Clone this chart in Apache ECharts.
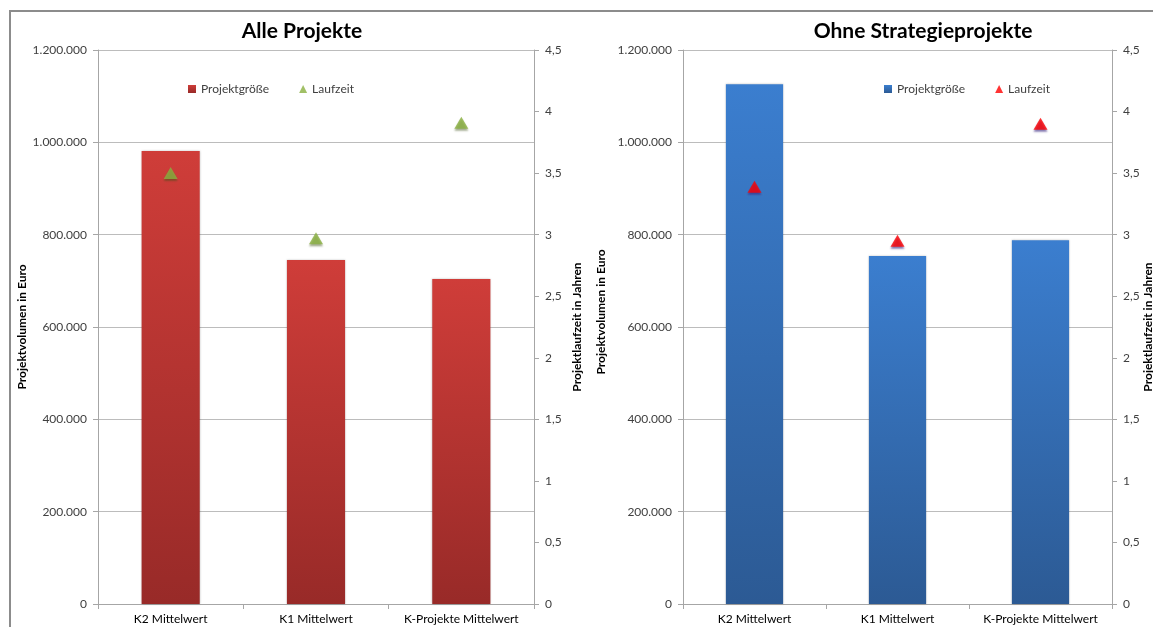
<!DOCTYPE html>
<html>
<head>
<meta charset="utf-8">
<title>Projekte</title>
<script src="https://cdn.jsdelivr.net/npm/echarts@6/dist/echarts.min.js"></script>
<style>
    body { margin: 0; background: #fff; }
    #frame { position: absolute; left: 9px; top: 10px; width: 1144px; height: 617px;
             border-top: 2px solid #8c8c8c; border-left: 2px solid #8c8c8c; box-sizing: border-box; }
    #c1 { position: absolute; left: 0; top: 0; width: 600px; height: 627px; }
    #c2 { position: absolute; left: 580px; top: 0; width: 573px; height: 627px; }
</style>
</head>
<body>
<div id="frame"></div>
<div id="c1"></div>
<div id="c2"></div>
<script>
    // Daten
    var kategorien = ['K2 Mittelwert', 'K1 Mittelwert', 'K-Projekte Mittelwert'];
    var alleGroesse = [981000, 745000, 704000];
    var alleLaufzeit = [3.5, 2.97, 3.91];
    var ohneGroesse = [1126000, 754000, 788000];
    var ohneLaufzeit = [3.39, 2.95, 3.9];

    var font = 'Lato, "Open Sans", sans-serif';

    function tausender(v) {
        return String(v).replace(/\B(?=(\d{3})+(?!\d))/g, '.');
    }
    function komma(v) {
        return String(v).replace('.', ',');
    }

    function baueOption(cfg) {
        return {
            animation: false,
            textStyle: { fontFamily: font },
            title: {
                text: cfg.titel,
                left: cfg.titelX,
                top: 16,
                textAlign: 'center',
                textStyle: { fontFamily: font, fontSize: 21, fontWeight: 'bold', color: '#000' }
            },
            legend: {
                left: cfg.legendeX,
                top: 78,
                itemGap: 30,
                itemWidth: 8,
                itemHeight: 8,
                textStyle: { fontFamily: font, fontSize: 12, color: '#404040' },
                data: [
                    { name: 'Projektgröße', icon: 'rect' },
                    { name: 'Laufzeit', icon: 'triangle' }
                ]
            },
            grid: {
                left: cfg.gridLeft, right: cfg.gridRight, top: 50, bottom: 23,
                containLabel: false, outerBoundsMode: 'none'
            },
            xAxis: {
                type: 'category',
                data: kategorien,
                axisLine: { lineStyle: { color: '#a6a6a6' } },
                axisTick: { show: true, alignWithLabel: false, length: 5, lineStyle: { color: '#a6a6a6' } },
                axisLabel: { interval: 0, color: '#000', fontSize: 12, fontFamily: font, margin: 9 }
            },
            yAxis: [
                {
                    type: 'value',
                    min: 0, max: 1200000, interval: 200000,
                    name: 'Projektvolumen in Euro',
                    nameLocation: 'middle',
                    nameRotate: 90,
                    nameGap: cfg.nameGapL,
                    nameMoveOverlap: false,
                    nameTextStyle: {
                        fontFamily: font, fontSize: 12, fontWeight: 'bold', color: '#000',
                        padding: cfg.namePadL
                    },
                    axisLine: { show: true, lineStyle: { color: '#a6a6a6' } },
                    axisTick: { show: true, length: 5, lineStyle: { color: '#a6a6a6' } },
                    axisLabel: { color: '#404040', fontSize: 12, fontFamily: font, margin: 11, formatter: tausender },
                    splitLine: { lineStyle: { color: '#bcbcbc' } }
                },
                {
                    type: 'value',
                    position: 'right',
                    min: 0, max: 4.5, interval: 0.5,
                    name: 'Projektlaufzeit in Jahren',
                    nameLocation: 'middle',
                    nameRotate: 90,
                    nameGap: cfg.nameGapR,
                    nameMoveOverlap: false,
                    nameTextStyle: { fontFamily: font, fontSize: 12, fontWeight: 'bold', color: '#000' },
                    axisLine: { show: true, lineStyle: { color: '#a6a6a6' } },
                    axisTick: { show: true, length: 5, lineStyle: { color: '#a6a6a6' } },
                    axisLabel: { color: '#404040', fontSize: 12, fontFamily: font, margin: 11, formatter: komma },
                    splitLine: { show: false }
                }
            ],
            series: [
                {
                    name: 'Projektgröße',
                    type: 'bar',
                    barWidth: '40%',
                    data: cfg.groesse,
                    itemStyle: {
                        color: new echarts.graphic.LinearGradient(0, 0, 0, 1, [
                            { offset: 0, color: cfg.balkenOben },
                            { offset: 1, color: cfg.balkenUnten }
                        ]),
                        shadowColor: 'rgba(0,0,0,0.25)',
                        shadowBlur: 2
                    }
                },
                {
                    name: 'Laufzeit',
                    type: 'scatter',
                    yAxisIndex: 1,
                    symbol: 'triangle',
                    symbolSize: [14, 12],
                    data: cfg.laufzeit,
                    itemStyle: {
                        color: cfg.dreieck,
                        shadowColor: cfg.schatten,
                        shadowBlur: 2,
                        shadowOffsetY: 2
                    }
                }
            ]
        };
    }

    var chart1 = echarts.init(document.getElementById('c1'));
    chart1.setOption(baueOption({
        titel: 'Alle Projekte', titelX: 297, legendeX: 183,
        gridLeft: 98, gridRight: 66, nameGapL: 70, nameGapR: 37, namePadL: 0,
        groesse: alleGroesse, laufzeit: alleLaufzeit,
        balkenOben: '#cf3d39', balkenUnten: '#982a28',
        dreieck: '#8ab040', schatten: 'rgba(60,80,20,0.6)'
    }));

    var chart2 = echarts.init(document.getElementById('c2'));
    chart2.setOption(baueOption({
        titel: 'Ohne Strategieprojekte', titelX: 338, legendeX: 299,
        gridLeft: 103, gridRight: 41, nameGapL: 76, nameGapR: 30, namePadL: [0, 0, 0, 30],
        groesse: ohneGroesse, laufzeit: ohneLaufzeit,
        balkenOben: '#3b7ecf', balkenUnten: '#2c5a94',
        dreieck: '#ff0000', schatten: 'rgba(60,40,130,0.8)'
    }));
</script>
</body>
</html>
